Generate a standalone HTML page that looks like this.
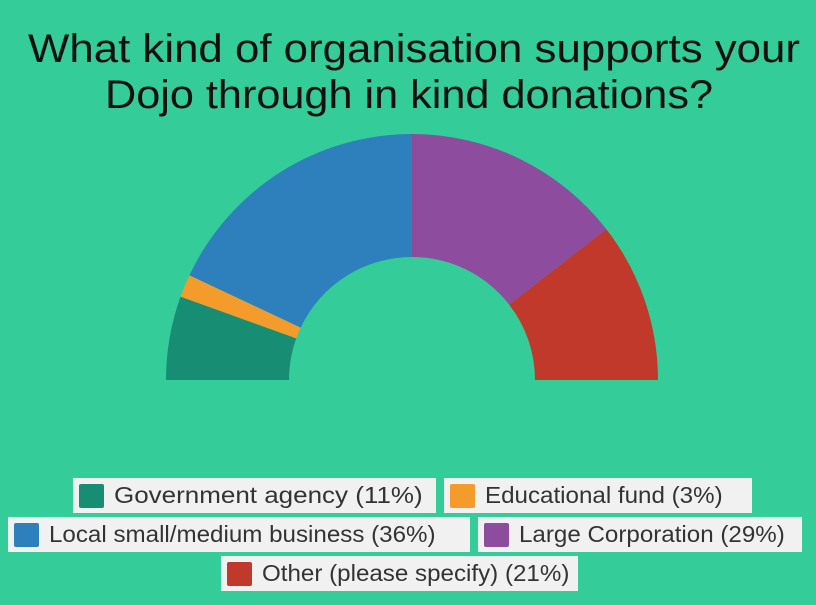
<!DOCTYPE html>
<html><head><meta charset="utf-8"><style>
html,body{margin:0;padding:0}
body{width:816px;height:605px;background:#34cc98;position:relative;overflow:hidden;font-family:"Liberation Sans",sans-serif}
.leg{position:absolute;height:35px;background:#f1f1f1;box-sizing:border-box;font-size:23px;color:#333;line-height:35px;white-space:nowrap}
.sw{position:absolute;left:6px;top:6px;width:25px;height:24px;border-radius:2px}
.lt{position:absolute;left:41px;top:0;transform:scaleX(1.05);transform-origin:left center}
</style></head><body>
<svg width="816" height="605" style="position:absolute;left:0;top:0">
<text x="414" y="62" text-anchor="middle" font-size="40" font-family="Liberation Sans, sans-serif" textLength="772" lengthAdjust="spacingAndGlyphs" fill="#111">What kind of organisation supports your</text>
<text x="409" y="108" text-anchor="middle" font-size="40" font-family="Liberation Sans, sans-serif" textLength="608" lengthAdjust="spacingAndGlyphs" fill="#111">Dojo through in kind donations?</text>
<g id="slices"></g>
</svg>
<div class="leg" style="left:73px;top:478px;width:363px"><div class="sw" style="background:#178e73"></div><span class="lt" style="transform:scaleX(1.13)">Government agency (11%)</span></div>
<div class="leg" style="left:444px;top:478px;width:308px"><div class="sw" style="background:#f39c2c"></div><span class="lt">Educational fund (3%)</span></div>
<div class="leg" style="left:8px;top:517px;width:462px"><div class="sw" style="background:#2e80bd"></div><span class="lt">Local small/medium business (36%)</span></div>
<div class="leg" style="left:478px;top:517px;width:324px"><div class="sw" style="background:#8e4c9e"></div><span class="lt">Large Corporation (29%)</span></div>
<div class="leg" style="left:221px;top:556px;width:357px"><div class="sw" style="background:#c0392b"></div><span class="lt">Other (please specify) (21%)</span></div>
<script>
const categories=["Government agency","Educational fund","Local small/medium business","Large Corporation","Other (please specify)"];
const values=[11,3,36,29,21];
const colors=["#178e73","#f39c2c","#2e80bd","#8e4c9e","#c0392b"];
const cx=412,cy=380,R=246,r=123;
const total=values.reduce((a,b)=>a+b,0);
const g=document.getElementById('slices');
let acc=0;
function pt(a,rad){return [cx-rad*Math.cos(a),cy-rad*Math.sin(a)];}
values.forEach((v,i)=>{
  const a0=acc/total*Math.PI; acc+=v; const a1=acc/total*Math.PI;
  const p0=pt(a0,R),p1=pt(a1,R),q1=pt(a1,r),q0=pt(a0,r);
  const d=`M${p0[0]},${p0[1]} A${R},${R} 0 0 1 ${p1[0]},${p1[1]} L${q1[0]},${q1[1]} A${r},${r} 0 0 0 ${q0[0]},${q0[1]} Z`;
  const p=document.createElementNS('http://www.w3.org/2000/svg','path');
  p.setAttribute('d',d);p.setAttribute('fill',colors[i]);
  
  
  g.appendChild(p);
});
</script>
</body></html>
